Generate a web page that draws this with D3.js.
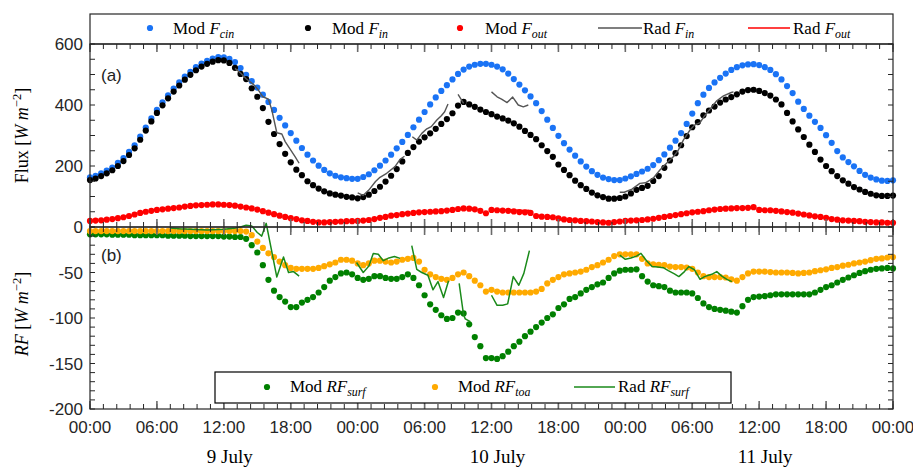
<!DOCTYPE html>
<html><head><meta charset="utf-8">
<script src="https://cdn.jsdelivr.net/npm/d3@7"></script>
<style>body{margin:0;background:#fff} svg{display:block}</style>
</head><body><svg id="c" width="913" height="469"></svg>
<script>
// ---------- DATA (half-hourly, hours since 9 July 00:00) ----------
const hours = d3.range(0, 72.001, 0.5);
const modFcin = [163,168,176,185,195,210,226,246,268,296,326,356,384,409,432,454,474,493,509,524,536,545,552,557,
 556,551,541,521,499,478,457,434,410,384,358,333,308,283,259,237,218,201,187,176,168,163,160,158,
 158,164,173,186,201,218,237,258,279,302,327,352,377,402,425,446,465,484,502,516,526,532,535,535,
 532,526,517,503,485,467,448,428,406,380,352,325,299,275,254,234,215,198,183,171,162,157,154,154,
 159,166,174,182,191,203,219,238,260,283,308,338,372,406,434,456,474,489,503,515,524,530,533,534,
 531,524,515,501,484,462,439,411,387,365,345,325,301,276,249,228,213,199,184,171,162,156,152,151,153];
const modFin = [154,159,167,176,186,200,216,236,258,286,316,346,374,399,422,444,464,483,499,514,526,535,542,547,
 546,538,522,502,485,455,427,390,345,305,272,240,212,188,170,150,137,126,117,110,106,103,99,97,
 94,98,106,118,132,149,168,190,215,243,262,280,294,307,322,338,354,373,398,410,402,394,385,377,
 370,362,356,349,340,329,315,302,288,268,249,230,205,187,170,152,137,125,113,104,98,93,93,95,
 100,110,122,128,135,151,167,194,218,242,268,298,327,344,366,382,395,408,418,426,435,444,449,450,
 446,439,431,418,402,374,346,320,295,270,246,221,200,183,167,153,142,131,123,115,109,104,102,102,103];
const modFout = [20,21,22,24,26,29,32,36,41,46,50,53,56,58,60,62,64,67,69,71,72,73,74,74,
 73,72,70,67,64,61,57,52,47,42,37,33,29,26,22,20,17,15,15,16,17,18,19,19,
 20,21,23,26,30,33,37,39,42,44,46,48,49,50,51,52,54,56,59,61,60,58,53,45,
 56,55,54,53,51,49,48,46,36,34,33,32,28,25,23,22,20,19,18,16,15,14,16,18,
 20,21,22,23,25,27,30,33,36,39,42,45,48,50,52,55,57,59,60,61,62,62,63,65,
 56,55,55,53,51,49,47,44,41,38,35,33,30,26,24,22,21,20,19,17,16,15,15,14,14];
const modRFsurf = [-8,-8,-8,-8,-8.5,-8.5,-8.5,-8.5,-9,-9,-9,-9,-9,-9,-9.5,-9.5,-9.5,-9.5,-10,-10,-10,-10,-10,-10,
 -10.5,-10.5,-11,-11,-13,-20,-28,-42,-58,-70,-77,-82,-88,-88,-83,-80,-77,-72,-66,-59,-55,-51,-50,-52,
 -56,-58,-57,-54,-54,-56,-57,-57,-55,-52,-56,-64,-75,-85,-91,-97,-101,-100,-94,-95,-107,-121,-131,-144,
 -144,-145,-142,-137,-131,-126,-120,-115,-110,-105,-100,-96,-89,-85,-79,-77,-73,-69,-66,-63,-61,-56,-51,-48,
 -47,-47,-46.5,-54,-60,-64,-65,-66,-70,-72,-72,-72,-73,-78,-84,-88,-90,-91,-92,-93,-94,-87,-80,-77,
 -76.5,-76,-75,-74,-74,-74,-74,-74,-74,-74,-72,-69,-66,-64,-61,-58,-55.5,-53,-50.5,-48.5,-47,-46,-45.5,-45,-45.5];
const modRFtoa = [-4.5,-4.5,-4.5,-4.5,-4.5,-4.5,-4.5,-4.5,-4.5,-4.5,-4.5,-4.5,-4.5,-4.5,-4.5,-4.5,-4.5,-4.5,-4.5,-4.5,-4.5,-4.5,-4.5,-4.5,
 -4.5,-4.5,-4.5,-4.5,-5,-9,-16,-23,-29,-33,-38,-42,-45,-46,-46,-46,-46,-45,-43,-41,-39,-36,-36,-37,
 -40,-42,-40,-37,-37,-38,-39,-38,-36,-35,-34,-38,-47,-52,-55,-57,-58,-56,-52,-50,-54,-59,-64,-71,
 -69,-71,-72,-72,-72,-72,-72,-72,-71,-68,-62,-58,-55,-52,-51,-50,-49,-47,-44,-42,-39,-36,-32,-30,
 -30,-30,-30,-35,-40,-41,-41.5,-42,-43.5,-44,-44,-44.5,-46,-50,-54,-55,-55,-55,-55.5,-57.5,-59,-55,-51,-49,
 -49,-49,-49.5,-50,-50,-50,-50.5,-51,-50.5,-50,-48.5,-47.5,-46.5,-45,-44,-42.5,-41.5,-40,-39,-38,-36.5,-35,-34.5,-33.5,-33];
// radiometer series: [hour, value], null separates gaps
const radFin = [[13,520],[13.5,505],[14,486],[14.35,476],[14.7,466],[15.1,449],[15.5,427],[16,419],[16.3,384],[16.75,309],[17.2,305],[17.5,280],[17.9,258],[18.4,230],[18.75,209],null,
 [24,112],[24.5,104],[25,121],[25.6,149],[26,163],[26.6,176],[27.35,198],[27.8,222],[28.2,232],null,
 [28.9,296],[29.3,285],[29.75,307],[30.2,322],[30.6,329],[31.1,351],[31.5,365],[31.8,378],[32.1,403],null,
 [33,435],[33.5,405],null,
 [36,443],[36.5,427],[36.9,419],[37.4,408],[37.9,426],[38.4,400],[38.85,394],[39.3,400],null,
 [47.5,114],[47.9,114],[48.6,124],[49.3,143],[49.8,145],[50.5,160],[51.1,187],[51.7,209],[52.3,230],[52.75,252],[53.2,285],[53.8,318],[54.2,334],[54.7,342],[55.1,364],[55.75,394],[56.2,414],[56.8,430],[57.5,441],[57.7,443]];
const radFout = [[36,57],[36.5,56],[37,55],[37.5,56],[38,56],[38.5,55],[39,54],[39.4,55]];
const radRFsurf = [[7.2,-1],[8,-2],[9,-2.5],[10,-3],[10.5,-3.3],[11,-3],[12,-2.5],[12.9,-1.5],[13.5,0],[14,2],[14.5,1],[15,-6],[15.4,-10],[15.8,4],[16.75,-55],[17.35,-33],[17.8,-50],[18.25,-49],[18.75,-54],null,
 [23.9,-39],[24.5,-50],[25,-43],[25.4,-29],[25.85,-30],[26.3,-37],[26.8,-34],[27.3,-32.5],[27.8,-34.5],null,
 [28.85,-20.5],[29.3,-46.5],[29.75,-50],[30.3,-53],[30.75,-69],[31.2,-60],[31.7,-77.5],[32.15,-59],null,
 [33.1,-62],[33.5,-97],[33.65,-101],[34.1,-104],null,
 [36,-75],[36.5,-86],[37,-86],[37.45,-84.5],[37.95,-54.5],[38.45,-64],[38.9,-51],[39.4,-26],null,
 [47.5,-31],[48,-35.5],[48.5,-34],[49,-32],[49.4,-29],[49.9,-37],[50.4,-43.5],[50.9,-44],[51.4,-44.7],[51.85,-48],[52.4,-51.6],[52.8,-54.5],[53.3,-49],[53.7,-43.5],[54.2,-47],[54.7,-57.5],[55.1,-54.5],[55.75,-52],[56.2,-49],[56.65,-54],[57.1,-57.5],[57.55,-60]];
const majorTicks = [0,6,12,18,24,30,36,42,48,54,60,66,72];
const dayLabels = [[12,"9 July"],[36,"10 July"],[60,"11 July"]];
const fluxTicks = [0,200,400,600];
const rfTicks = [-200,-150,-100,-50];

// ---------- LAYOUT ----------
const X0=90, X1=893, LTOP=14, TOP=44, MID=227, BOT=409;
const C = {blue:"#1a73f5", black:"#000", red:"#ff0000", gray:"#555", orange:"#ffaa00", green:"#008000", green2:"#1a8a1a", axis:"#262626"};
const svg = d3.select("#c");
const x = d3.scaleLinear().domain([0,72]).range([X0,X1]);
const yA = d3.scaleLinear().domain([0,600]).range([MID,TOP]);
const yB = d3.scaleLinear().domain([-200,0]).range([BOT,MID]);
const R = 3.1;

function dots(vals, y, col){
  svg.append("g").selectAll("circle").data(vals).join("circle")
    .attr("cx",(d,i)=>x(hours[i])).attr("cy",d=>y(d)).attr("r",R).attr("fill",col);
}
function line(pts, y, col, w){
  svg.append("path").datum(pts)
    .attr("d", d3.line().defined(d=>d!==null).x(d=>x(d[0])).y(d=>y(d[1])))
    .attr("fill","none").attr("stroke",col).attr("stroke-width",w).attr("stroke-linejoin","round");
}
// panel a
dots(modFcin, yA, C.blue);
dots(modFin, yA, C.black);
dots(modFout, yA, C.red);
line(radFin, yA, C.gray, 1.4);
line(radFout, yA, C.red, 1.4);
// panel b
dots(modRFsurf, yB, C.green);
dots(modRFtoa, yB, C.orange);
line(radRFsurf, yB, C.green2, 1.5);

// ---------- AXES ----------
const minorX = d3.range(0, 72.001, 1.2);
function xTicks(yPos, dir){
  const g = svg.append("g");
  g.selectAll("line.mn").data(minorX).join("line")
    .attr("x1",d=>x(d)).attr("x2",d=>x(d)).attr("y1",yPos).attr("y2",yPos+dir*5)
    .attr("stroke",C.axis).attr("stroke-width",1);
  g.selectAll("line.mj").data(majorTicks).join("line")
    .attr("x1",d=>x(d)).attr("x2",d=>x(d)).attr("y1",yPos).attr("y2",yPos+dir*8)
    .attr("stroke","#6a6a6a").attr("stroke-width",1.6);
}
xTicks(TOP, 1); xTicks(MID, -1); xTicks(MID, 1); xTicks(BOT, -1);

function yTicks(scale, vals){
  const g = svg.append("g");
  g.selectAll("line.l").data(vals).join("line")
    .attr("x1",X0).attr("x2",X0+5).attr("y1",d=>scale(d)).attr("y2",d=>scale(d)).attr("stroke",C.axis);
  g.selectAll("line.r").data(vals).join("line")
    .attr("x1",X1).attr("x2",X1-5).attr("y1",d=>scale(d)).attr("y2",d=>scale(d)).attr("stroke",C.axis);
}
yTicks(yA, d3.range(0, 601, 50));
yTicks(yB, d3.range(-200, 1, 10));

// frames
svg.append("rect").attr("x",X0).attr("y",LTOP).attr("width",X1-X0).attr("height",TOP-LTOP).attr("fill","none").attr("stroke",C.axis).attr("stroke-width",1.2);
svg.append("rect").attr("x",X0).attr("y",TOP).attr("width",X1-X0).attr("height",MID-TOP).attr("fill","none").attr("stroke",C.axis).attr("stroke-width",1.2);
svg.append("rect").attr("x",X0).attr("y",MID).attr("width",X1-X0).attr("height",BOT-MID).attr("fill","none").attr("stroke",C.axis).attr("stroke-width",1.2);

// tick labels
const sans = "'Liberation Sans', Arial, sans-serif";
const serif = "'Liberation Serif', 'Times New Roman', serif";
svg.append("g").selectAll("text").data(fluxTicks).join("text")
  .attr("x",X0-7).attr("y",d=>yA(d)+6).attr("text-anchor","end")
  .attr("font-family",sans).attr("font-size",17).attr("fill",C.axis).text(d=>d);
svg.append("g").selectAll("text").data(rfTicks).join("text")
  .attr("x",X0-7).attr("y",d=>yB(d)+6).attr("text-anchor","end")
  .attr("font-family",sans).attr("font-size",17).attr("fill",C.axis).text(d=>d);
svg.append("g").selectAll("text").data(majorTicks).join("text")
  .attr("x",d=>x(d)).attr("y",433).attr("text-anchor","middle")
  .attr("font-family",sans).attr("font-size",17).attr("fill",C.axis)
  .text(d=>d3.format("02")(d%24)+":00");
svg.append("g").selectAll("text").data(dayLabels).join("text")
  .attr("x",d=>x(d[0])+6).attr("y",463).attr("text-anchor","middle")
  .attr("font-family",serif).attr("font-size",19).attr("fill","#000").text(d=>d[1]);

// panel letters
svg.append("text").attr("x",101).attr("y",81).attr("font-family",sans).attr("font-size",17).attr("fill","#222").text("(a)");
svg.append("text").attr("x",101).attr("y",261).attr("font-family",sans).attr("font-size",17).attr("fill","#222").text("(b)");

// y-axis titles
function mathText(g, parts, size){
  const t = g.append("text").attr("font-family",serif).attr("font-size",size).attr("fill","#000");
  parts.forEach(p=>{
    const s = t.append("tspan").text(p.t);
    if(p.i) s.attr("font-style","italic");
    if(p.sub){ s.attr("font-size",size*0.7).attr("dy",size*0.22); }
    if(p.sup){ s.attr("font-size",size*0.7).attr("dy",-size*0.38); }
    if(p.back) s.attr("dy",p.back);
  });
  return t;
}
const ya = svg.append("g").attr("transform",`translate(28,${(TOP+MID)/2}) rotate(-90)`);
mathText(ya,[{t:"Flux ["},{t:"W m",i:1},{t:"\u22122",sup:1},{t:"]",back:18*0.38}],18).attr("text-anchor","middle");
const yb = svg.append("g").attr("transform",`translate(28,${(MID+BOT)/2-4}) rotate(-90)`);
mathText(yb,[{t:"RF",i:1},{t:" ["},{t:"W m",i:1},{t:"\u22122",sup:1},{t:"]",back:18*0.38}],18).attr("text-anchor","middle");

// ---------- LEGENDS ----------
const LY = 28;
function legText(xp, yp, parts){
  const g = svg.append("g").attr("transform",`translate(${xp},${yp})`);
  mathText(g, parts, 17);
}
svg.append("circle").attr("cx",150).attr("cy",LY).attr("r",R).attr("fill",C.blue);
legText(173,34,[{t:"Mod "},{t:"F",i:1},{t:"cin",i:1,sub:1}]);
svg.append("circle").attr("cx",308).attr("cy",LY).attr("r",R).attr("fill",C.black);
legText(332,34,[{t:"Mod "},{t:"F",i:1},{t:"in",i:1,sub:1}]);
svg.append("circle").attr("cx",460).attr("cy",LY).attr("r",R).attr("fill",C.red);
legText(485,34,[{t:"Mod "},{t:"F",i:1},{t:"out",i:1,sub:1}]);
svg.append("line").attr("x1",598).attr("x2",642).attr("y1",LY).attr("y2",LY).attr("stroke",C.gray).attr("stroke-width",1.4);
legText(643,34,[{t:"Rad "},{t:"F",i:1},{t:"in",i:1,sub:1}]);
svg.append("line").attr("x1",748).attr("x2",790).attr("y1",LY).attr("y2",LY).attr("stroke",C.red).attr("stroke-width",1.4);
legText(793,34,[{t:"Rad "},{t:"F",i:1},{t:"out",i:1,sub:1}]);

// bottom legend
svg.append("rect").attr("x",215).attr("y",372).attr("width",516).attr("height",31).attr("fill","#fff").attr("stroke","#000").attr("stroke-width",1.2);
const BY = 387;
svg.append("circle").attr("cx",267).attr("cy",BY).attr("r",R).attr("fill",C.green);
legText(290,392,[{t:"Mod "},{t:"RF",i:1},{t:"surf",i:1,sub:1}]);
svg.append("circle").attr("cx",435).attr("cy",BY).attr("r",R).attr("fill",C.orange);
legText(458,392,[{t:"Mod "},{t:"RF",i:1},{t:"toa",i:1,sub:1}]);
svg.append("line").attr("x1",574).attr("x2",615).attr("y1",BY).attr("y2",BY).attr("stroke",C.green2).attr("stroke-width",1.5);
legText(618,392,[{t:"Rad "},{t:"RF",i:1},{t:"surf",i:1,sub:1}]);
</script></body></html>
